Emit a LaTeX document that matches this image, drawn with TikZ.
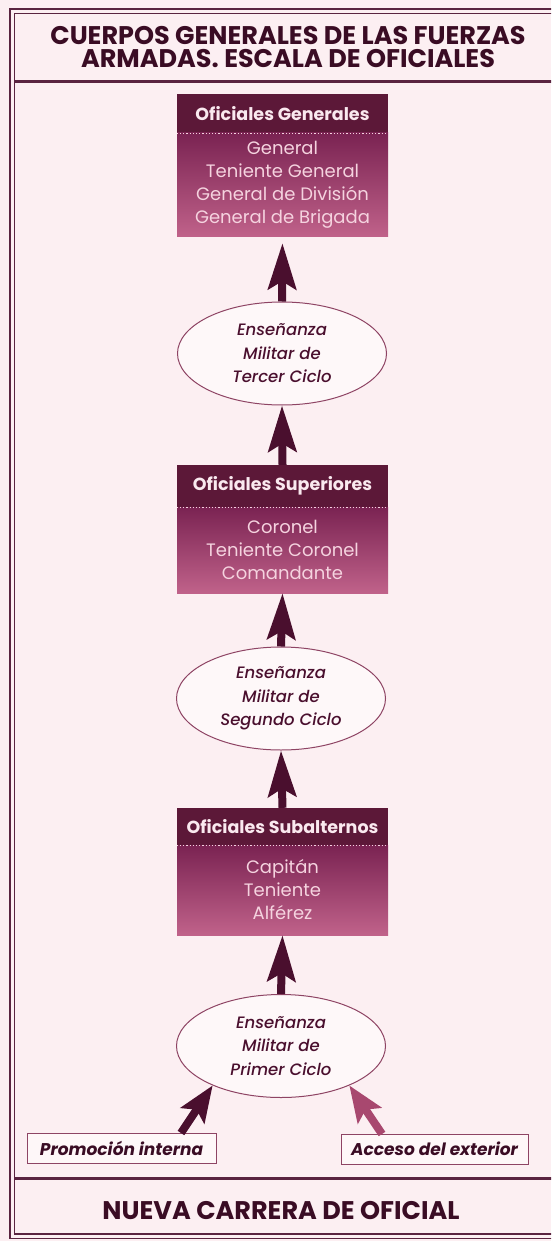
\documentclass[tikz,border=0pt]{standalone}
\usepackage{fontspec}
\setmainfont{Poppins}
\newfontfamily\medfont{Poppins Medium}
\usetikzlibrary{arrows.meta,shapes.geometric}
\definecolor{bg}{HTML}{FCEFF2}
\definecolor{dark}{HTML}{4A0F2E}
\definecolor{titlec}{HTML}{3A0C24}
\definecolor{hdr}{HTML}{5C1838}
\definecolor{bodytop}{HTML}{7A2352}
\definecolor{bodybot}{HTML}{C0628A}
\definecolor{pale}{HTML}{F5D3DF}
\definecolor{ellline}{HTML}{8E4464}
\definecolor{rarrow}{HTML}{A8486F}
\definecolor{framec}{HTML}{5A2440}
\tikzset{
  hdrbox/.style={fill=hdr, minimum width=211pt, inner sep=0pt, text=pale!50!white,
    font=\bfseries\fontsize{17.5}{20}\selectfont},
  bodybox/.style={top color=bodytop, bottom color=bodybot, minimum width=211pt, inner sep=0pt,
    text=pale, align=center, font=\fontsize{18}{23}\selectfont},
  ell/.style={ellipse, draw=ellline, line width=1pt, fill=white!55!bg, minimum width=209pt,
    minimum height=103pt, inner sep=0pt, align=center, text=dark,
    font=\medfont\itshape\fontsize{16.5}{23.5}\selectfont},
  uparrow/.style={draw=dark, line width=8pt, -{Stealth[length=46pt,width=28pt,inset=8pt]}},
  diagarrow/.style={line width=8pt, -{Stealth[length=36pt,width=28pt,inset=7pt]}},
  smallbox/.style={draw=ellline, line width=0.9pt, fill=white!50!bg, inner sep=0pt,
    minimum height=30pt, text=titlec, font=\bfseries\itshape\fontsize{17}{19}\selectfont},
  bigtitle/.style={align=center, text=titlec, font=\bfseries\fontsize{25.5}{23}\selectfont},
  dotline/.style={draw=pale, line width=1.2pt, dash pattern=on 1.2pt off 2pt}
}
\begin{document}
\begin{tikzpicture}[x=1pt,y=-1pt]
\useasboundingbox (0,0) rectangle (551,1241);
\clip (0,0) rectangle (551,1241);
\fill[bg] (0,0) rectangle (551,1241);
% frame
\draw[framec, line width=1.8pt] (10,9) rectangle (600,1238.5);
\draw[framec, line width=1.8pt] (14.5,13.5) rectangle (600,1234);
\draw[framec, line width=3pt] (14.5,82) -- (600,82);
\draw[framec, line width=3pt] (14.5,1178) -- (600,1178);
% title
\node[bigtitle] (title) at (288,47) {CUERPOS GENERALES DE LAS FUERZAS\\ARMADAS. ESCALA DE OFICIALES};
\node[bigtitle] (foot) at (281,1210) {NUEVA CARRERA DE OFICIAL};
% box 1
\node[hdrbox, minimum height=39pt] (h1) at (282.5,113.5) {Oficiales Generales};
\node[bodybox, minimum height=104pt] (b1) at (282.5,185) {General\\Teniente General\\General de División\\General de Brigada};
\draw[dotline] (h1.south west) -- (h1.south east);
% box 2
\node[hdrbox, minimum height=42pt] (h2) at (282.5,486) {Oficiales Superiores};
\node[bodybox, minimum height=86pt] (b2) at (282.5,550) {Coronel\\Teniente Coronel\\Comandante};
\draw[dotline] (h2.south west) -- (h2.south east);
% box 3
\node[hdrbox, minimum height=37pt] (h3) at (282.5,826.5) {Oficiales Subalternos};
\node[bodybox, minimum height=90pt] (b3) at (282.5,890) {Capitán\\Teniente\\Alférez};
\draw[dotline] (h3.south west) -- (h3.south east);
% ellipses
\node[ell] (e1) at (282,353.5) {Enseñanza\\Militar de\\Tercer Ciclo};
\node[ell] (e2) at (281,698.5) {Enseñanza\\Militar de\\Segundo Ciclo};
\node[ell] (e3) at (281,1046) {Enseñanza\\Militar de\\Primer Ciclo};
% small boxes
\node[smallbox, minimum width=189pt] (prom) at (121.5,1148) {Promoción interna};
\node[smallbox, minimum width=187pt] (acc) at (434.5,1149) {Acceso del exterior};
% arrows
\draw[uparrow, shorten >=6pt] (e1.north) -- (b1.south);
\draw[uparrow] (h2.north) -- (e1.south);
\draw[uparrow] (e2.north) -- (b2.south);
\draw[uparrow] (h3.north) -- (e2.south);
\draw[uparrow] (e3.north) -- (b3.south);
\coordinate (pl) at (181,1133);
\coordinate (pr) at (382,1134);
\draw[diagarrow, dark] (pl) -- (e3.210);
\draw[diagarrow, rarrow] (pr) -- (e3.330);
\end{tikzpicture}
\end{document}
